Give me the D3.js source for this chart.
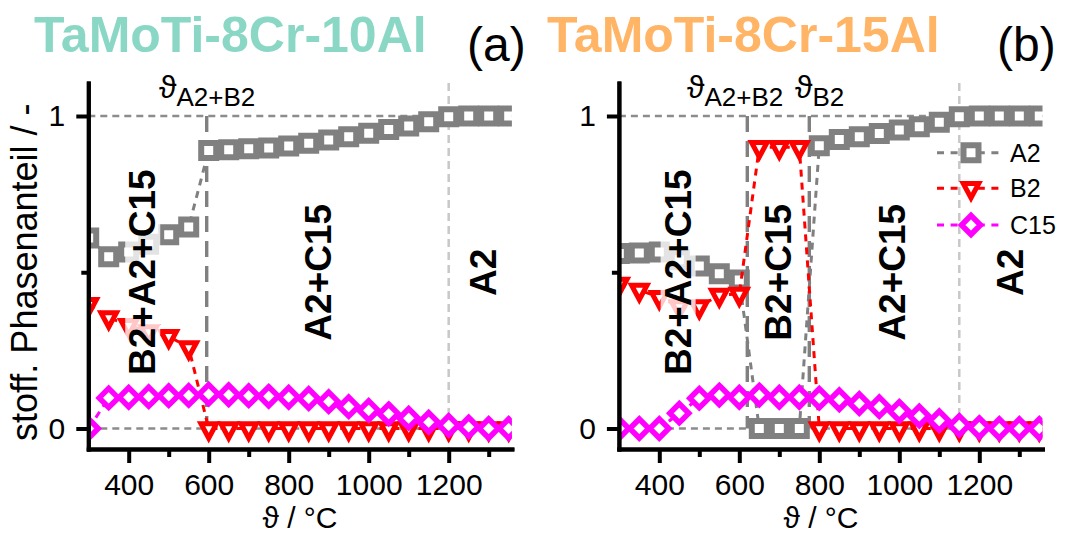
<!DOCTYPE html>
<html>
<head>
<meta charset="utf-8">
<script src="https://cdn.jsdelivr.net/npm/d3@7"></script>
<style>
  body { margin: 0; background: #fff; }
  svg { display: block; font-family: "Liberation Sans", Arial, Helvetica, sans-serif; }
</style>
</head>
<body>
<svg id="chart" width="1068" height="533"></svg>
<script>
// Temperatures of the equilibrium calculation, °C
const temperatures = [300, 350, 400, 450, 500, 550, 600, 650, 700, 750, 800,
                      850, 900, 950, 1000, 1050, 1100, 1150, 1200, 1250, 1300, 1350];

// TaMoTi-8Cr-10Al: molar phase fractions
const a2_10Al  = [0.61, 0.55, 0.565, 0.59, 0.62, 0.645, 0.89, 0.892, 0.895, 0.898, 0.904,
                  0.913, 0.923, 0.934, 0.945, 0.957, 0.968, 0.982, 0.998, 1.0, 1.0, 1.0];
const b2_10Al  = [0.397, 0.355, 0.33, 0.31, 0.295, 0.259, 0, 0, 0, 0, 0,
                  0, 0, 0, 0, 0, 0, 0, 0, 0, 0, 0];
const c15_10Al = [0, 0.098, 0.1, 0.102, 0.105, 0.106, 0.11, 0.108, 0.105, 0.103, 0.1,
                  0.096, 0.086, 0.07, 0.058, 0.047, 0.033, 0.02, 0.01, 0.005, 0, 0];

// TaMoTi-8Cr-15Al: molar phase fractions
const a2_15Al  = [0.56, 0.562, 0.565, 0.54, 0.52, 0.495, 0.475, 0, 0, 0, 0.905,
                  0.925, 0.934, 0.944, 0.955, 0.966, 0.98, 0.998, 1.0, 1.0, 1.0, 1.0];
const b2_15Al  = [0.462, 0.443, 0.42, 0.39, 0.39, 0.427, 0.43, 0.9, 0.9, 0.9, 0,
                  0, 0, 0, 0, 0, 0, 0, 0, 0, 0, 0];
const c15_15Al = [0, 0, 0, 0.049, 0.097, 0.107, 0.1, 0.107, 0.1, 0.1, 0.097,
                  0.092, 0.08, 0.07, 0.055, 0.04, 0.025, 0.01, 0.003, 0, 0, 0];

const seriesNames = ["A2", "B2", "C15"];

// Phase boundaries (°C) and single-phase A2 limit
const boundaries10Al = [595];
const boundaries15Al = [620, 775];
const boundaryNames10Al = ["A2+B2"];
const boundaryNames15Al = ["A2+B2", "B2"];
const a2Limit10Al = 1200;
const a2Limit15Al = 1150;

// Phase-field labels and the temperature they sit at
const fields10Al = ["B2+A2+C15", "A2+C15", "A2"];
const fieldTemps10Al = [433, 873, 1286];
const fields15Al = ["B2+A2+C15", "B2+C15", "A2+C15", "A2"];
const fieldTemps15Al = [445, 697, 982, 1277];

// Axis ticks
const xMajorTicks = [400, 600, 800, 1000, 1200];
const xMinorTicks = [500, 700, 900, 1100, 1300];
const yMajorTicks = [0, 1];
const yMinorTicks = [0.5];

const THETA = "\u03D1";

// ---------- markers ----------
const triangleDown = {
  draw(ctx, size) {
    const w = Math.sqrt(size), h = w * 0.94;
    ctx.moveTo(-w / 2, -h / 3);
    ctx.lineTo(w / 2, -h / 3);
    ctx.lineTo(0, 2 * h / 3);
    ctx.closePath();
  }
};
const diamond = {
  draw(ctx, size) {
    const r = Math.sqrt(size) / 2;
    ctx.moveTo(0, -r); ctx.lineTo(r, 0); ctx.lineTo(0, r); ctx.lineTo(-r, 0);
    ctx.closePath();
  }
};
const seriesStyle = {
  A2:  { color: "#808080", symbol: d3.symbol().type(d3.symbolSquare).size(15 * 15), width: 6 },
  B2:  { color: "#ff0000", symbol: d3.symbol().type(triangleDown).size(15.5 * 15.5), width: 5 },
  C15: { color: "#ff00ff", symbol: d3.symbol().type(diamond).size(19 * 19), width: 5.5 }
};

const svg = d3.select("#chart");
svg.append("rect").attr("width", 1068).attr("height", 533).attr("fill", "#fff");

const y = d3.scaleLinear().domain([-0.0656, 1.1056]).range([449, 83]);

const panels = [
  {
    key: "a", x0: 88.3, title: "TaMoTi-8Cr-10Al", titleColor: "#8bd7c5", titleX: 34,
    tag: "(a)", tagX: 467,
    series: [a2_10Al, b2_10Al, c15_10Al],
    boundaries: boundaries10Al, boundaryNames: boundaryNames10Al, boundaryLabelX: [159],
    a2Limit: a2Limit10Al, fields: fields10Al, fieldTemps: fieldTemps10Al,
    axisTitleX: 300, yTitle: true, legend: false
  },
  {
    key: "b", x0: 618.9, title: "TaMoTi-8Cr-15Al", titleColor: "#ffb466", titleX: 547,
    tag: "(b)", tagX: 997,
    series: [a2_15Al, b2_15Al, c15_15Al],
    boundaries: boundaries15Al, boundaryNames: boundaryNames15Al, boundaryLabelX: [687, 795],
    a2Limit: a2Limit15Al, fields: fields15Al, fieldTemps: fieldTemps15Al,
    axisTitleX: 821, yTitle: false, legend: true
  }
];

panels.forEach(p => {
  const x = d3.scaleLinear().domain([299, 1358]).range([p.x0, p.x0 + 423.6]);
  const g = svg.append("g");
  const xEnd = x(1358);

  const clipId = "clip-" + p.key;
  svg.append("clipPath").attr("id", clipId)
    .append("rect").attr("x", p.x0).attr("y", 0)
    .attr("width", xEnd - p.x0).attr("height", 533);

  // title and panel tag
  g.append("text").attr("x", p.titleX).attr("y", 52)
    .attr("font-size", 50).attr("font-weight", "bold").attr("fill", p.titleColor)
    .text(p.title);
  g.append("text").attr("x", p.tagX).attr("y", 61)
    .attr("font-size", 48).attr("fill", "#000").text(p.tag);

  // single-phase A2 limit
  g.append("line")
    .attr("x1", x(p.a2Limit)).attr("x2", x(p.a2Limit))
    .attr("y1", y(1.1056)).attr("y2", y(-0.0656))
    .attr("stroke", "#c8c8c8").attr("stroke-width", 2.5).attr("stroke-dasharray", "8,5");

  // reference lines at 0 and 1
  [0, 1].forEach(v => {
    g.append("line").attr("x1", p.x0).attr("x2", xEnd)
      .attr("y1", y(v)).attr("y2", y(v))
      .attr("stroke", "#8c8c8c").attr("stroke-width", 2.6).attr("stroke-dasharray", "7,5");
  });

  // phase boundaries
  p.boundaries.forEach((b, i) => {
    g.append("line").attr("x1", x(b)).attr("x2", x(b))
      .attr("y1", y(1)).attr("y2", y(0))
      .attr("stroke", "#808080").attr("stroke-width", 3.4).attr("stroke-dasharray", "16,9");
    const t = g.append("text").attr("x", p.boundaryLabelX[i]).attr("y", 98)
      .attr("fill", "#000");
    t.append("tspan").attr("font-size", 32).text(THETA);
    t.append("tspan").attr("font-size", 26).attr("dy", 8).text(p.boundaryNames[i]);
  });

  // series: dashed connecting line + open markers
  const plot = g.append("g").attr("clip-path", `url(#${clipId})`);
  seriesNames.forEach((name, si) => {
    const st = seriesStyle[name];
    const vals = p.series[si];
    const pts = temperatures.map((t, i) => [t, vals[i]]);
    plot.append("path")
      .attr("d", d3.line().x(d => x(d[0])).y(d => y(d[1]))(pts))
      .attr("fill", "none").attr("stroke", st.color)
      .attr("stroke-width", 3).attr("stroke-dasharray", "7,6");
    plot.selectAll(null).data(pts).join("path")
      .attr("transform", d => `translate(${x(d[0])},${y(d[1])})`)
      .attr("d", st.symbol)
      .attr("fill", "#fff").attr("stroke", st.color)
      .attr("stroke-width", st.width).attr("stroke-linejoin", "miter");
  });

  // phase-field labels on a translucent white backing
  p.fields.forEach((f, i) => {
    const lg = g.append("g")
      .attr("transform", `translate(${x(p.fieldTemps[i])},${y(0.5)}) rotate(-90)`);
    const rect = lg.append("rect");
    const t = lg.append("text").attr("text-anchor", "middle").attr("dy", "0.36em")
      .attr("font-size", 37).attr("font-weight", "bold").attr("fill", "#000").text(f);
    const bb = t.node().getBBox();
    rect.attr("x", bb.x - 2).attr("y", bb.y + 3).attr("width", bb.width + 4)
      .attr("height", bb.height - 6).attr("fill", "#fff").attr("fill-opacity", 0.78);
  });

  // axes
  const styleAxis = sel => {
    sel.attr("font-family", null).attr("font-size", null);
    sel.selectAll("path.domain").attr("stroke", "#000").attr("stroke-width", 4)
      .attr("stroke-linecap", "square");
    sel.selectAll(".tick line").attr("stroke", "#000").attr("stroke-width", 4);
    sel.selectAll(".tick text").attr("fill", "#000").attr("font-size", 30);
  };
  const xAxisG = g.append("g").attr("transform", `translate(0,${y(-0.0656)})`);
  xAxisG.append("g").call(d3.axisBottom(x).tickValues(xMinorTicks).tickSize(8)
    .tickSizeOuter(0).tickFormat("")).call(styleAxis);
  xAxisG.append("g").call(d3.axisBottom(x).tickValues(xMajorTicks).tickSize(14)
    .tickSizeOuter(0).tickPadding(10.5).tickFormat(d3.format("d"))).call(styleAxis);

  const yAxisG = g.append("g").attr("transform", `translate(${p.x0},0)`);
  yAxisG.append("g").call(d3.axisLeft(y).tickValues(yMinorTicks).tickSize(7)
    .tickSizeOuter(0).tickFormat("")).call(styleAxis);
  yAxisG.append("g").call(d3.axisLeft(y).tickValues(yMajorTicks).tickSize(12)
    .tickSizeOuter(0).tickPadding(11).tickFormat(d3.format("d"))).call(styleAxis);

  // axis titles
  g.append("text").attr("x", p.axisTitleX).attr("y", 528).attr("text-anchor", "middle")
    .attr("font-size", 30).attr("fill", "#000").text(`${THETA} / °C`);
  if (p.yTitle) {
    g.append("text").attr("transform", `translate(36.5,${y(0.5)}) rotate(-90)`)
      .attr("text-anchor", "middle").attr("font-size", 36).attr("fill", "#000")
      .text("stoff. Phasenanteil / -");
  }

  // legend
  if (p.legend) {
    const rows = [152.7, 188.3, 225];
    seriesNames.forEach((name, i) => {
      const st = seriesStyle[name];
      const lg = g.append("g").attr("transform", `translate(0,${rows[i]})`);
      lg.append("line").attr("x1", 937).attr("x2", 1005).attr("y1", 0).attr("y2", 0)
        .attr("stroke", st.color).attr("stroke-width", 3).attr("stroke-dasharray", "7,6.6");
      lg.append("path").attr("transform", "translate(971,0)").attr("d", st.symbol)
        .attr("fill", "#fff").attr("stroke", st.color).attr("stroke-width", st.width);
      lg.append("text").attr("x", 1010).attr("y", 9).attr("font-size", 25)
        .attr("fill", "#000").text(name);
    });
  }
});
</script>
</body>
</html>
